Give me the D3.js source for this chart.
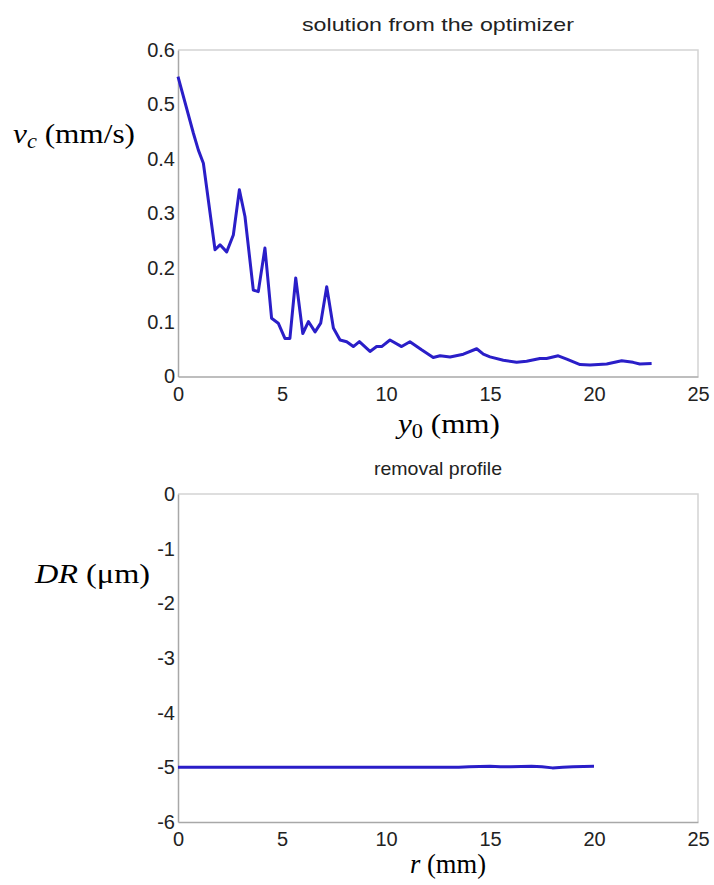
<!DOCTYPE html>
<html>
<head>
<meta charset="utf-8">
<script src="https://cdn.jsdelivr.net/npm/d3@7"></script>
<style>
  body { margin: 0; background: #fff; }
  svg { display: block; }
  .tick text { font-family: "Liberation Sans", Arial, sans-serif; font-size: 20px; fill: #222; }
  .ttl { font-family: "Liberation Sans", Arial, sans-serif; font-size: 19px; fill: #222; }
  .lab { font-family: "Liberation Serif", "Times New Roman", serif; font-size: 28px; fill: #000; }
</style>
</head>
<body>
<svg id="chart" width="714" height="885"></svg>
<script>
// top panel: optimizer solution
const y0Vals = [0, 0.74, 0.98, 1.22, 1.78, 2.02, 2.34, 2.66, 2.95, 3.22, 3.62, 3.86, 4.18, 4.5, 4.82,
    5.14, 5.38, 5.66, 6.0, 6.27, 6.59, 6.86, 7.15, 7.47, 7.79, 8.11, 8.43, 8.72, 9.23, 9.55, 9.79,
    10.19, 10.75, 11.15, 11.71, 12.27, 12.6, 13.08, 13.72, 14.36, 14.68, 15.0, 15.64, 16.28, 16.76,
    17.4, 17.72, 18.28, 18.69, 19.33, 19.81, 20.61, 21.33, 21.88, 22.2, 22.77];
const vcVals = [0.551, 0.447, 0.416, 0.392, 0.233, 0.242, 0.229, 0.260, 0.343, 0.294, 0.159, 0.156, 0.236, 0.107, 0.098,
    0.070, 0.070, 0.181, 0.079, 0.101, 0.082, 0.098, 0.165, 0.089, 0.067, 0.064, 0.055, 0.064, 0.046, 0.055, 0.055,
    0.067, 0.055, 0.064, 0.049, 0.035, 0.038, 0.036, 0.041, 0.051, 0.041, 0.036, 0.030, 0.026, 0.028,
    0.033, 0.033, 0.038, 0.032, 0.022, 0.021, 0.023, 0.029, 0.026, 0.023, 0.024];
const topXTicks = [0, 5, 10, 15, 20, 25];
const topYTicks = [0, 0.1, 0.2, 0.3, 0.4, 0.5, 0.6];

// bottom panel: removal profile
const rVals = [0, 2, 4, 6, 8, 10, 12, 13.5, 14, 14.5, 15, 15.5, 16, 16.5, 17, 17.5, 18, 18.5, 19, 19.5, 20];
const drVals = [-5, -5, -5, -5, -5, -5, -5, -5, -4.99, -4.985, -4.98, -4.99, -4.99, -4.985, -4.98, -4.99, -5.01, -5.0, -4.99, -4.985, -4.98];
const botXTicks = [0, 5, 10, 15, 20, 25];
const botYTicks = [0, -1, -2, -3, -4, -5, -6];

const svg = d3.select("#chart");
const lineColor = "#2a1ec8";

function panel(opts) {
    const x = d3.scaleLinear().domain([0, 25]).range([178, 698]);
    const y = d3.scaleLinear().domain(opts.ydom).range([opts.bottom, opts.top]);
    const g = svg.append("g");

    // light frame on top/right
    g.append("path")
        .attr("d", `M178,${opts.top}H698V${opts.bottom}`)
        .attr("fill", "none").attr("stroke", "#d4d4d4").attr("stroke-width", 1.5);

    const xAxis = g.append("g")
        .attr("transform", `translate(0,${opts.bottom})`)
        .call(d3.axisBottom(x).tickValues(opts.xticks).tickSize(0).tickPadding(10).tickFormat(d3.format("d")));
    const yAxis = g.append("g")
        .attr("transform", "translate(178,0)")
        .call(d3.axisLeft(y).tickValues(opts.yticks).tickSize(0).tickPadding(3).tickFormat(opts.yfmt));
    [xAxis, yAxis].forEach(a => {
        a.select(".domain").attr("stroke", "#a8a8a8").attr("stroke-width", 1.5);
    });

    g.append("path")
        .datum(opts.xs.map((v, i) => [v, opts.ys[i]]))
        .attr("fill", "none")
        .attr("stroke", lineColor)
        .attr("stroke-width", 3)
        .attr("stroke-linejoin", "round")
        .attr("d", d3.line().x(d => x(d[0])).y(d => y(d[1])));

    g.append("text").attr("class", "ttl")
        .attr("x", 438).attr("y", opts.top - 19)
        .attr("text-anchor", "middle")
        .attr("textLength", opts.titleLen)
        .attr("lengthAdjust", "spacingAndGlyphs")
        .text(opts.title);
}

panel({
    top: 50, bottom: 376.5, ydom: [0, 0.6],
    xticks: topXTicks, yticks: topYTicks,
    yfmt: d => d === 0 ? "0" : d3.format(".1f")(d),
    xs: y0Vals, ys: vcVals,
    title: "solution from the optimizer", titleLen: 272
});

panel({
    top: 494, bottom: 822, ydom: [-6, 0],
    xticks: botXTicks, yticks: botYTicks,
    yfmt: d => String(d),
    xs: rVals, ys: drVals,
    title: "removal profile", titleLen: 128
});

// axis titles
function label(x, y, len, anchor) {
    return svg.append("text").attr("class", "lab")
        .attr("x", x).attr("y", y)
        .attr("text-anchor", anchor)
        .attr("textLength", len)
        .attr("lengthAdjust", "spacingAndGlyphs");
}

const vc = label(13, 143, 122, "start");
vc.append("tspan").attr("font-style", "italic").text("v");
vc.append("tspan").attr("font-style", "italic").attr("font-size", "20px").attr("dy", 5).text("c");
vc.append("tspan").attr("dy", -5).text(" (mm/s)");

const y0 = label(449, 433, 102, "middle");
y0.append("tspan").attr("font-style", "italic").text("y");
y0.append("tspan").attr("font-size", "20px").attr("dy", 5).text("0");
y0.append("tspan").attr("dy", -5).text(" (mm)");

const dr = label(35, 583, 115, "start");
dr.append("tspan").attr("font-style", "italic").text("DR");
dr.append("tspan").text(" (\u03bcm)");

const rl = label(448, 873, 76, "middle");
rl.append("tspan").attr("font-style", "italic").text("r");
rl.append("tspan").text(" (mm)");
</script>
</body>
</html>
